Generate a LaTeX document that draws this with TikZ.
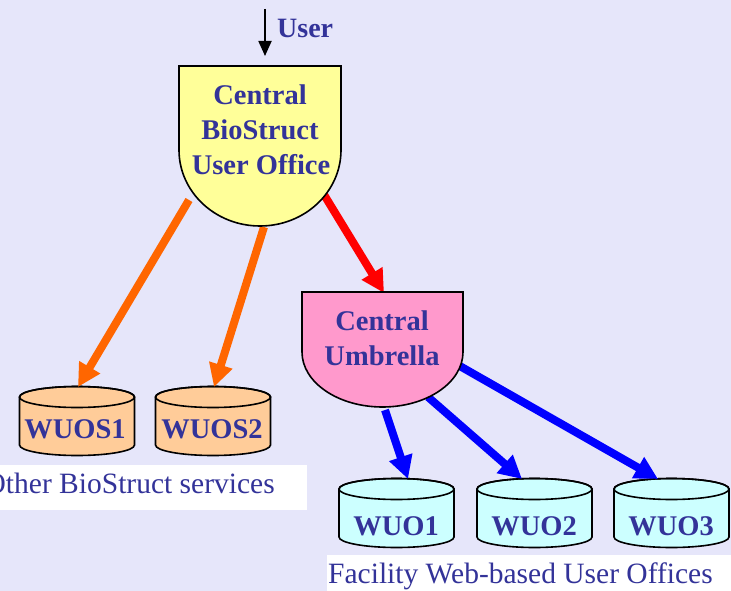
\documentclass[tikz,border=0pt]{standalone}
\usepackage{fontspec}
\setmainfont{Liberation Serif}
\usetikzlibrary{arrows.meta}
\definecolor{bgc}{HTML}{E6E6FA}
\definecolor{txt}{HTML}{333399}
\definecolor{shieldyellow}{HTML}{FFFF99}
\definecolor{shieldpink}{HTML}{FF99CC}
\definecolor{cylorange}{HTML}{FFCC99}
\definecolor{cylcyan}{HTML}{CCFFFF}
\definecolor{arrorange}{HTML}{FF6600}
\tikzset{
  outline/.style={draw=black, line width=1.6pt},
  boldlbl/.style={text=txt, font=\fontsize{28.5}{33}\selectfont\bfseries, inner sep=0pt, anchor=base},
  plainlbl/.style={text=txt, font=\fontsize{29.5}{34}\selectfont, inner sep=0pt, anchor=base west},
  fatarrow/.style={line width=8pt, -{Triangle[length=23pt,width=23pt]}},
  userarrow/.style={line width=1.8pt, -{Triangle[length=15pt,width=13pt]}},
}
\newcommand\mycyl[4]{% name, cx, top centre y, fill
  \filldraw[outline, fill=#4] ({#2-57.5},{-#3}) -- ({#2-57.5},{-#3-48})
    arc[start angle=180, end angle=360, x radius=57.5, y radius=10.5]
    -- ({#2+57.5},{-#3})
    arc[start angle=0, end angle=180, x radius=57.5, y radius=10.5] -- cycle;
  \draw[outline] (#2,{-#3}) ellipse[x radius=57.5, y radius=10.5];
  \coordinate (#1) at (#2,{-#3-10.5});
}
\begin{document}
\begin{tikzpicture}[x=1pt,y=1pt]
\useasboundingbox (0,0) rectangle (731,-591);
\clip (0,0) rectangle (731,-591);
\fill[bgc] (0,0) rectangle (731,-591);

% white caption boxes
\fill[white] (0,-465) rectangle (307,-510);
\fill[white] (327,-555) rectangle (731,-591);
\node[plainlbl] (cap1) at (-15.5,-493) {Other BioStruct services};
\node[plainlbl] (cap2) at (328,-583) {Facility Web-based User Offices};

% connector end points
\coordinate (ustart) at (265,-9);
\coordinate (uend) at (265,-56);
\coordinate (o1s) at (189,-200);
\coordinate (o2s) at (264,-227);
\coordinate (rs) at (323,-193);
\coordinate (rt) at (384,-293);
\coordinate (b1s) at (385,-410);
\coordinate (b2s) at (428,-397);
\coordinate (b3s) at (458,-365);
\coordinate (o1t) at (78,-387);
\coordinate (o2t) at (214,-387);
\coordinate (b1t) at (408,-479);
\coordinate (b2t) at (522,-479);
\coordinate (b3t) at (658,-479);

% cylinders
\mycyl{wuos1}{77}{397}{cylorange}
\mycyl{wuos2}{213}{397}{cylorange}
\mycyl{wuo1}{396.5}{489}{cylcyan}
\mycyl{wuo2}{534.5}{489}{cylcyan}
\mycyl{wuo3}{671.5}{489}{cylcyan}
\node[boldlbl] (l-wuos1) at (75,-438) {WUOS1};
\node[boldlbl] (l-wuos2) at (212,-438) {WUOS2};
\node[boldlbl] (l-wuo1) at (396,-535) {WUO1};
\node[boldlbl] (l-wuo2) at (534,-535) {WUO2};
\node[boldlbl] (l-wuo3) at (671,-535) {WUO3};

% arrows
\draw[fatarrow, arrorange] (o1s) -- (o1t);
\draw[fatarrow, arrorange] (o2s) -- (o2t);
\draw[fatarrow, red] (rs) -- (rt);
\draw[fatarrow, blue] (b1s) -- (b1t);
\draw[fatarrow, blue] (b2s) -- (b2t);
\draw[fatarrow, blue] (b3s) -- (b3t);
\draw[userarrow, black] (ustart) -- (uend);
\node[text=txt, font=\fontsize{28}{32}\selectfont\bfseries, inner sep=0pt, anchor=base west] (user) at (277,-38) {User};

% shields
\filldraw[outline, fill=shieldyellow] (179,-66) -- (341,-66) -- (341,-150)
  arc[start angle=0, end angle=-180, x radius=81, y radius=76] -- cycle;
\node[boldlbl] (cb1) at (260,-105) {Central};
\node[boldlbl] (cb2) at (260,-140) {BioStruct};
\node[boldlbl] (cb3) at (261,-175) {User Office};

\filldraw[outline, fill=shieldpink] (302,-292) -- (463,-292) -- (463,-352)
  arc[start angle=0, end angle=-180, x radius=80.5, y radius=55] -- cycle;
\node[boldlbl] (cu1) at (382,-330) {Central};
\node[boldlbl] (cu2) at (382,-365) {Umbrella};
\end{tikzpicture}
\end{document}
